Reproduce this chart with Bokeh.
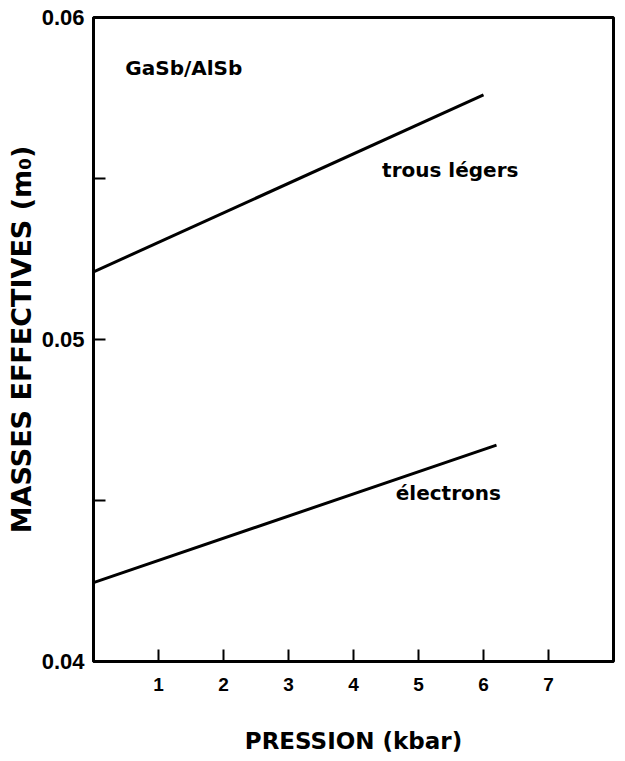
from bokeh.plotting import figure
from bokeh.models import Range1d, FixedTicker, Label
from bokeh.embed import file_html
from bokeh.resources import INLINE

# Data
pression_trous = [0.0, 6.0]
masse_trous = [0.0521, 0.0576]
pression_electrons = [0.0, 6.2]
masse_electrons = [0.04245, 0.04672]

x_ticks = [1, 2, 3, 4, 5, 6, 7]
y_ticks = [0.04, 0.045, 0.05, 0.055, 0.06]
y_tick_labels = {0.04: "0.04", 0.045: "", 0.05: "0.05", 0.055: "", 0.06: "0.06"}

p = figure(width=625, height=761, output_backend="svg", toolbar_location=None,
           x_range=Range1d(0, 8), y_range=Range1d(0.04, 0.06),
           min_border_left=93, min_border_right=12, min_border_top=17, min_border_bottom=100)

p.xgrid.visible = False
p.ygrid.visible = False
p.outline_line_color = "black"
p.outline_line_width = 3
p.background_fill_color = "white"
p.border_fill_color = "white"

p.line(pression_trous, masse_trous, line_color="black", line_width=3)
p.line(pression_electrons, masse_electrons, line_color="black", line_width=3)

for ax in (p.xaxis[0], p.yaxis[0]):
    ax.axis_line_width = 3
    ax.axis_line_color = "black"
    ax.major_tick_in = 12
    ax.major_tick_out = 0
    ax.major_tick_line_width = 2
    ax.minor_tick_line_color = None
    ax.major_label_text_font = "Liberation Sans"
    ax.major_label_text_font_style = "bold"
    ax.major_label_text_color = "black"
    ax.axis_label_text_font = "DejaVu Sans"
    ax.axis_label_text_font_style = "bold"
    ax.axis_label_text_color = "black"

p.xaxis.ticker = FixedTicker(ticks=x_ticks)
p.xaxis.major_label_text_font_size = "19px"
p.xaxis.major_label_standoff = 16
p.xaxis.axis_label = "PRESSION (kbar)"
p.xaxis.axis_label_text_font_size = "23px"
p.xaxis.axis_label_standoff = 34

p.yaxis.ticker = FixedTicker(ticks=y_ticks)
p.yaxis.major_label_overrides = y_tick_labels
p.yaxis.major_label_text_font_size = "22px"
p.yaxis.major_label_standoff = 9
p.yaxis.axis_label = "MASSES EFFECTIVES (m\u2080)"
p.yaxis.axis_label_text_font_size = "27px"
p.yaxis.axis_label_standoff = 2

for txt, x, y in [("GaSb/AlSb", 0.49, 0.05842),
                  ("trous légers", 4.44, 0.05525),
                  ("électrons", 4.65, 0.04522)]:
    p.add_layout(Label(x=x, y=y, text=txt, text_font="DejaVu Sans", text_font_style="bold",
                       text_font_size="20px", text_baseline="middle", text_align="left",
                       text_color="black"))

open("out.html", "w").write(file_html(p, INLINE))
